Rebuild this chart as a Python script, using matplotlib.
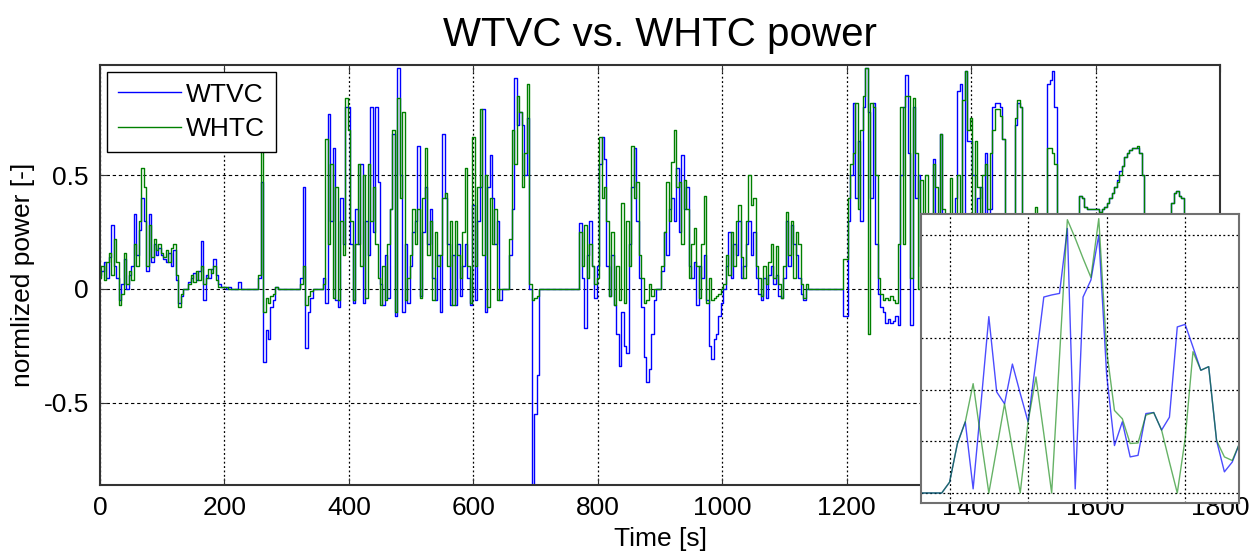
import numpy as np
import matplotlib
matplotlib.use("Agg")
import matplotlib.pyplot as plt

plt.rcParams['font.family'] = ['Liberation Sans', 'DejaVu Sans']
plt.rcParams['axes.unicode_minus'] = False

# ---------------- data ----------------
SAMPLE_STEP_S = 4  # values below are sampled every 4 s, one row = 100 s

whtc_power = [
    0.05, 0.10, 0.04, 0.12, 0.16, 0.06, 0.22, 0.12, -0.07, -0.02, 0.16, 0.02, 0.08, 0.04, 0.20, 0.10, 0.30, 0.53, 0.45, 0.10, 0.28, 0.14, 0.22, 0.17, 0.20,
    0.16, 0.14, 0.17, 0.12, 0.18, 0.20, 0.06, -0.08, -0.02, 0.00, 0.00, 0.02, 0.06, 0.03, 0.08, 0.04, 0.10, 0.02, 0.05, 0.09, 0.07, 0.10, 0.04, 0.01, 0.01,
    0.01, 0.01, 0.00, 0, 0, 0, 0, 0, 0, 0, 0, 0, 0, 0, 0.06, 0.62, -0.10, -0.04, -0.06, -0.03, -0.02, 0.01, 0, 0, 0,
    0, 0, 0, 0, 0, 0, 0.02, 0.10, -0.07, -0.03, -0.01, 0, 0, 0, 0, 0.02, 0.66, 0.20, 0.55, -0.04, 0.45, -0.05, 0.30, 0.15, 0.84,
    0.70, 0.30, -0.05, 0.20, 0.55, 0.10, 0.50, -0.04, 0.55, 0.30, 0.45, 0.20, 0.05, -0.07, 0.10, -0.05, 0.20, 0.35, 0.70, -0.10, 0.84, 0.40, 0.78, -0.05, 0.05,
    0.15, 0.35, 0.20, 0.35, -0.04, 0.40, 0.62, 0.15, 0.30, -0.05, 0.25, 0.10, 0.15, 0.40, 0.42, 0.10, 0.30, -0.07, 0.30, 0.15, 0.05, 0.25, 0.53, 0.10, -0.06,
    0.67, 0.10, 0.45, 0.79, 0.15, 0.50, -0.08, 0.40, 0.20, 0.35, -0.05, 0.00, 0.00, 0.00, 0.00, 0.22, 0.70, 0.55, 0.85, 0.78, 0.45, 0.60, 0.90, 0.02, -0.05,
    -0.04, -0.03, 0, 0, 0, 0, 0, 0, 0, 0, 0, 0, 0, 0, 0, 0, 0, 0, 0.25, 0.10, 0.28, 0.05, 0.20, 0.10, 0.02,
    0.05, 0.67, 0.40, 0.45, 0.30, -0.03, 0.25, -0.07, 0.10, -0.05, 0.38, -0.06, 0.30, 0.10, 0.63, 0.40, 0.47, 0.15, 0.05, -0.06, -0.05, 0.02, -0.03, 0.00, 0.00,
    0.00, 0.10, 0.25, 0.47, 0.30, 0.56, 0.70, 0.45, 0.47, 0.20, 0.48, 0.35, 0.05, 0.20, 0.27, 0.10, -0.04, 0.20, 0.41, -0.06, 0.05, -0.05, -0.04, -0.03, -0.02,
    0.00, 0.02, 0.15, 0.06, 0.25, 0.10, 0.30, 0.37, 0.14, 0.05, 0.30, 0.50, 0.37, 0.40, 0.10, 0.05, -0.03, 0.10, 0.02, 0.12, 0.20, 0.05, 0.19, 0.02, -0.04,
    0.10, 0.34, 0.15, 0.30, 0.05, 0.25, 0.20, 0.02, -0.04, 0.02, 0.00, 0, 0, 0, 0, 0, 0, 0, 0, 0, 0, 0, 0, 0, 0.13,
    0.13, 0.40, 0.55, 0.60, 0.82, 0.35, 0.70, 0.85, 0.97, -0.20, 0.82, 0.80, 0.50, 0.05, -0.02, -0.05, -0.04, -0.05, -0.03, -0.05, -0.06, 0.20, 0.80, 0.20, 0.85,
    0.85, 0.05, 0.84, 0.60, 0.00, 0.48, 0.20, 0.50, 0.33, 0.10, 0.55, 0.45, 0.10, 0.68, 0.35, 0.15, 0.30, 0.49, 0.10, 0.30, 0.50, 0.20, 0.83, 0.96, 0.70,
    0.75, 0.30, 0.65, 0.45, 0.20, 0.50, 0.55, 0.35, 0.60, 0.70, 0.79, 0.79, 0.76, 0.66, 0.20, 0.05, 0.10, 0.05, 0.75, 0.83, 0.80, 0.10, 0.02, 0.05, 0.10,
    0.10, 0.36, 0.10, 0.20, 0.05, 0.15, 0.62, 0.62, 0.60, 0.55, 0.30, 0.10, 0.05, 0.15, 0.20, 0.10, 0.05, 0.15, 0.30, 0.41, 0.40, 0.36, 0.35, 0.35, 0.35,
    0.35, 0.35, 0.34, 0.35, 0.36, 0.38, 0.40, 0.42, 0.45, 0.47, 0.50, 0.54, 0.58, 0.60, 0.61, 0.62, 0.62, 0.63, 0.60, 0.50, 0.30, 0.20, 0.15, 0.20, 0.15,
    0.10, 0.05, 0.10, 0.15, 0.10, 0.20, 0.38, 0.42, 0.43, 0.41, 0.40, 0.20, 0.10, 0.05, 0.10, 0.15, 0.10, 0.05, 0.08, 0.05, 0.02, 0.03, 0.02, 0.00, 0.00,
    0.00,
]

wtvc_power = [
    0.06, 0.08, 0.12, 0.05, 0.14, 0.28, 0.10, 0.05, -0.05, 0.02, 0.13, 0.00, 0.06, 0.10, 0.33, 0.15, 0.26, 0.40, 0.30, 0.08, 0.33, 0.12, 0.20, 0.15, 0.18,
    0.15, 0.13, 0.12, 0.16, 0.10, 0.17, 0.04, -0.06, -0.03, 0.00, 0.00, 0.03, 0.05, 0.07, 0.04, 0.08, 0.21, -0.05, 0.06, 0.05, 0.09, 0.13, 0.06, 0.02, 0.01,
    0.01, 0.00, 0.01, 0, 0, 0, 0.03, 0, 0, 0, 0, 0, 0, 0, 0.05, 0.47, -0.32, -0.18, -0.22, -0.08, -0.05, 0.01, 0, 0, 0,
    0, 0, 0, 0, 0, 0, 0.05, 0.45, -0.26, -0.10, -0.04, 0, 0, 0, 0, 0.05, -0.06, 0.77, 0.30, 0.62, -0.05, -0.08, 0.40, 0.20, 0.80,
    0.80, 0.20, -0.06, 0.35, 0.20, 0.55, -0.06, 0.30, 0.15, 0.80, 0.25, 0.80, 0.47, 0.02, -0.07, 0.15, -0.04, 0.35, 0.68, -0.12, 0.97, 0.50, -0.10, 0.20, -0.06,
    0.10, 0.25, 0.30, 0.63, -0.03, 0.25, 0.45, 0.20, 0.35, 0.05, -0.05, 0.15, -0.10, 0.68, 0.40, 0.20, -0.07, 0.15, -0.07, 0.20, -0.03, 0.10, 0.20, 0.05, -0.07,
    0.37, -0.05, 0.30, 0.45, 0.79, -0.10, 0.45, 0.59, 0.40, 0.20, 0.30, -0.05, 0.00, 0.00, 0.00, 0.15, 0.35, 0.93, 0.72, 0.78, 0.72, 0.50, 0.75, 0.00, -0.86,
    -0.55, -0.38, 0.00, 0, 0, 0, 0, 0, 0, 0, 0, 0, 0, 0, 0, 0, 0, 0, 0.29, 0.05, -0.17, 0.15, 0.30, 0.10, -0.04,
    0.10, 0.55, 0.67, 0.57, 0.10, -0.03, 0.15, -0.07, -0.20, -0.34, -0.10, -0.25, -0.28, 0.20, 0.45, 0.62, 0.30, 0.05, -0.08, -0.30, -0.41, -0.35, -0.20, -0.05, 0.00,
    0.00, 0.08, 0.25, 0.15, 0.35, 0.40, 0.30, 0.53, 0.25, 0.59, 0.35, 0.45, 0.10, 0.05, 0.12, -0.07, 0.10, 0.05, 0.15, -0.05, -0.25, -0.31, -0.22, -0.20, -0.12,
    -0.06, 0.00, 0.10, 0.25, 0.05, 0.20, 0.15, 0.30, 0.05, 0.10, 0.20, 0.30, 0.15, 0.25, 0.05, -0.02, -0.05, 0.05, -0.04, 0.06, 0.10, 0.02, 0.06, -0.03, -0.04,
    0.05, 0.30, 0.10, 0.28, 0.20, 0.15, 0.05, -0.02, -0.05, 0.00, 0.00, 0, 0, 0, 0, 0, 0, 0, 0, 0, 0, 0, 0, 0, -0.12,
    -0.12, 0.30, 0.50, 0.82, 0.40, 0.65, 0.30, 0.80, 0.97, 0.78, 0.40, 0.82, 0.20, -0.02, -0.08, -0.10, -0.15, -0.13, -0.15, -0.14, -0.12, -0.16, 0.50, 0.80, 0.94,
    0.60, -0.16, 0.80, 0.40, 0.50, 0.10, 0.30, 0.20, 0.15, 0.33, 0.57, 0.20, 0.10, 0.68, 0.25, 0.10, 0.20, 0.30, 0.15, 0.40, 0.87, 0.90, 0.30, 0.96, 0.65,
    0.65, 0.50, 0.30, 0.40, 0.45, 0.25, 0.60, 0.30, 0.35, 0.80, 0.82, 0.82, 0.80, 0.66, 0.20, 0.05, 0.10, 0.05, 0.72, 0.82, 0.80, 0.10, 0.02, 0.05, 0.10,
    0.10, 0.20, 0.10, 0.20, 0.05, 0.15, 0.90, 0.92, 0.96, 0.80, 0.30, 0.10, 0.05, 0.15, 0.20, 0.10, 0.05, 0.15, 0.30, 0.41, 0.40, 0.36, 0.35, 0.35, 0.35,
    0.35, 0.35, 0.34, 0.35, 0.36, 0.38, 0.40, 0.42, 0.45, 0.48, 0.52, 0.54, 0.58, 0.60, 0.61, 0.62, 0.62, 0.62, 0.60, 0.50, 0.30, 0.20, 0.15, 0.20, 0.15,
    0.10, 0.05, 0.10, 0.15, 0.10, 0.20, 0.38, 0.42, 0.43, 0.41, 0.40, 0.20, 0.10, 0.05, 0.10, 0.15, 0.10, 0.05, 0.08, 0.05, 0.02, 0.03, 0.02, 0.00, 0.00,
    0.00,
]

x_ticks = [0, 200, 400, 600, 800, 1000, 1200, 1400, 1600, 1800]
y_ticks = [-0.5, 0, 0.5]
y_tick_labels = ['-0.5', '0', '0.5']

# zoomed detail (inset), 1 s samples
inset_time = list(range(6, 48))
inset_wtvc = [0, 0, 0, 0,
              0.021, 0.096, 0.138, 0.008, 0.173, 0.342, 0.196, 0.173, 0.25, 0.193,
              0.138, 0.257, 0.38, 0.384, 0.387, 0.513, 0.008, 0.38, 0.413, 0.50,
              0.23, 0.092, 0.138, 0.07, 0.073, 0.154, 0.156, 0.122, 0.147, 0.322,
              0.327, 0.283, 0.238, 0.245, 0.102, 0.041, 0.06, 0.099]
inset_whtc = [0, 0, 0, 0,
              0.021, 0.096, 0.138, 0.212, 0.105, 0.0, 0.086, 0.173, 0.086, 0.0,
              0.138, 0.225, 0.115, 0.0, 0.264, 0.53, 0.494, 0.455, 0.418, 0.532,
              0.277, 0.16, 0.144, 0.096, 0.097, 0.151, 0.156, 0.122, 0.06, 0.0,
              0.105, 0.274, 0.238, 0.245, 0.102, 0.07, 0.063, 0.099]
inset_x_grid = [10, 20, 30, 40]
inset_y_grid = [0, 0.1, 0.2, 0.3, 0.4, 0.5]

# ---------------- figure ----------------
W, H = 1252, 554
FS = 19
fig = plt.figure(figsize=(W / 100, H / 100), dpi=100)
ax = fig.add_axes([100 / W, 1 - 485 / H, 1120 / W, 420 / H])

time_s = np.arange(len(whtc_power)) * SAMPLE_STEP_S
ax.plot(time_s, wtvc_power, color='#0000ff', lw=1.0, label='WTVC',
        drawstyle='steps-mid')
ax.plot(time_s, whtc_power, color='#008000', lw=1.0, label='WHTC',
        drawstyle='steps-mid')

ax.set_xlim(0, 1800)
ax.set_ylim(-0.862, 0.985)
ax.set_xticks(x_ticks)
ax.set_xticklabels([str(v) for v in x_ticks])
ax.set_yticks(y_ticks)
ax.set_yticklabels(y_tick_labels)
ax.xaxis.grid(True, color='k', linestyle=(0, (1.5, 2)), lw=0.9)
ax.yaxis.grid(True, color='k', linestyle=(0, (3, 2.5)), lw=0.8)
ax.tick_params(direction='in', length=5, top=True, right=True,
               labelsize=FS, pad=8, color='#333333')
for s in ax.spines.values():
    s.set_color('#333333')
    s.set_linewidth(1.5)
ax.set_xlabel('Time [s]', fontsize=FS, labelpad=5)
ax.set_ylabel('normlized power [-]', fontsize=FS, labelpad=6)
ax.set_title('WTVC vs. WHTC power', fontsize=29, pad=14)

leg = ax.legend(loc='upper left', fontsize=FS, frameon=True, fancybox=False,
                edgecolor='k', framealpha=1, borderaxespad=0.25,
                handlelength=2.4, handletextpad=0.2, labelspacing=0.4,
                borderpad=0.42)
leg.get_frame().set_linewidth(1.0)

axin = fig.add_axes([921 / W, 1 - 503 / H, 318 / W, 289 / H])
axin.plot(inset_time, inset_wtvc, color='#0000ff', lw=1.0, alpha=0.7)
axin.plot(inset_time, inset_whtc, color='#008000', lw=1.0, alpha=0.6)
axin.set_xlim(6.36, 46.86)
axin.set_ylim(-0.0194, 0.541)
axin.set_xticks(inset_x_grid)
axin.set_yticks(inset_y_grid)
axin.tick_params(length=0, labelbottom=False, labelleft=False)
axin.grid(True, color='k', linestyle=(0, (1.5, 2)), lw=0.9)
for s in axin.spines.values():
    s.set_color('#707070')
    s.set_linewidth(1.5)

fig.savefig('out.png', dpi=100)
